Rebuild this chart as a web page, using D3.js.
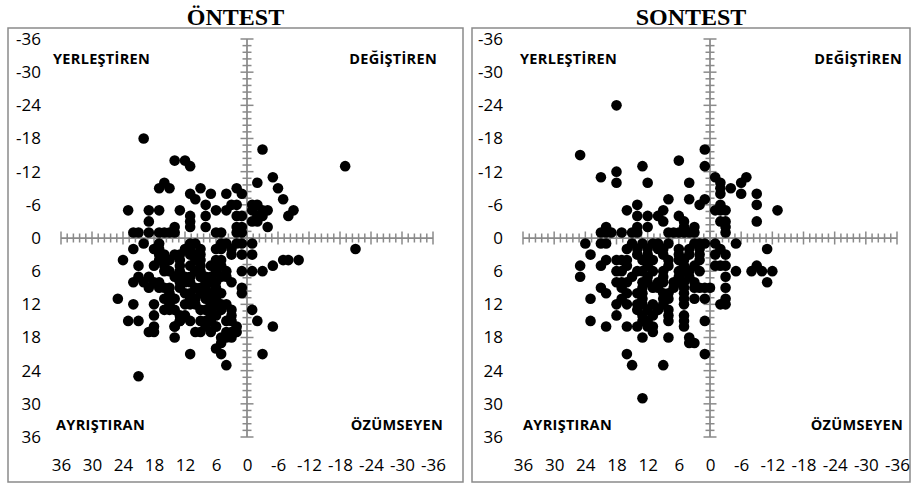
<!DOCTYPE html>
<html>
<head>
<meta charset="utf-8">
<script src="https://cdn.jsdelivr.net/npm/d3@7"></script>
<style>
  body { margin: 0; background: #fff; }
  text { fill: #000; }
</style>
</head>
<body>
<svg id="chart" width="915" height="484"></svg>
<script>
// titles, quadrant names and tick labels
var titles = ["ÖNTEST", "SONTEST"];
var quadrants = ["YERLEŞTİREN", "DEĞİŞTİREN", "AYRIŞTIRAN", "ÖZÜMSEYEN"];
var tickValues = [-36, -30, -24, -18, -12, -6, 0, 6, 12, 18, 24, 30, 36];

// [x, y] points (x grows to the left, y grows downward)
var ontest = [
  [20,-18],[-3,-16],[14,-14],[12,-14],[11,-13],[-19,-13],[-5,-11],[-2,-10],[-6,-9],[-7,-7],[-9,-5],[-8,-4],
  [16,-10],[17,-9],[15,-9],[9,-9],[11,-8],[10,-7],[7,-8],[4,-8],[2,-9],[1,-8],
  [8,-6],[6,-5],[8,-4],[8,-2],[11,-4],[11,-3],[11,-2],[13,-5],[17,-5],[19,-5],[23,-5],[19,-3],[14,-2],
  [4,-5],[3,-6],[2,-6],[2,-4],[1,-4],[2,-2],[1,-2],
  [-1,-6],[-2,-6],[-3,-5],[-4,-5],[-2,-4],[-1,-3],[-2,-3],[-4,-2],[-1,-5],[-3,-4],
  [22,-1],[21,-1],[19,-1],[17,-1],[16,-1],[15,-1],[14,-1],[6,-1],[5,-1],[1,-1],[2,-1],
  [20,1],[22,2],[24,4],[21,5],[19,7],[21,7],[22,8],[25,11],[22,12],[23,15],[21,15],[18,12],[18,14],
  [19,17],[18,17],[18,16],[14,18],[11,21],[4,23],[6,20],[5,21],[3,18],[5,18],[5,19],[-3,21],[-5,16],
  [-2,15],[-1,13],[1,10],[-1,6],[-3,6],[-5,5],[-7,4],[-8,4],[-10,4],[-21,2],[-1,1],[-1,3],[1,3],[1,6],
  [1,1],[21,25],[14,16],[13,15],[11,15],[10,17],[9,17],[8,16],[7,15],[6,16],[3,15],[2,16],
  [17,1],[11,1],[10,1],[5,1],[4,1],[2,1],
  [18,2],[17,2],[12,2],[11,2],[9,2],[6,2],[5,2],[3,2],
  [17,3],[16,3],[14,3],[13,3],[11,3],[10,3],[9,3],[3,3],
  [17,4],[16,4],[15,4],[13,4],[10,4],[9,4],[6,4],[5,4],
  [18,5],[16,5],[13,5],[11,5],[9,5],[7,5],[5,5],
  [16,6],[15,6],[13,6],[10,6],[9,6],[6,6],[4,6],
  [14,7],[13,7],[12,7],[11,7],[9,7],[8,7],[7,7],[5,7],[4,7],
  [20,8],[18,8],[17,8],[13,8],[12,8],[11,8],[8,8],[7,8],[6,8],[3,8],
  [19,9],[17,9],[16,9],[15,9],[13,9],[10,9],[9,9],[8,9],[6,9],[1,9],
  [15,10],[12,10],[11,10],[9,10],[8,10],[7,10],[6,10],[5,10],
  [16,11],[15,11],[14,11],[11,11],[10,11],[8,11],[7,11],[6,11],
  [15,12],[12,12],[11,12],[10,12],[7,12],[6,12],[5,12],[4,12],
  [16,13],[15,13],[14,13],[9,13],[8,13],[7,13],[5,13],[3,13],
  [13,14],[12,14],[7,14],[6,14],[3,14],
  [13,15],[9,15],[8,15],[4,15],
  [14,16],[6,16],[7,17],[4,17],[3,17],[2,17],[4,18]
];

var sontest = [
  [18,-24],[25,-15],[6,-14],[1,-16],[13,-13],[1,-13],[21,-11],[18,-12],[18,-10],[12,-10],[4,-10],[-1,-11],
  [-2,-10],[-2,-9],[-2,-8],[-4,-9],[-6,-10],[-7,-11],[-6,-8],[-9,-8],[-9,-6],[-9,-3],[-13,-5],
  [4,-7],[8,-7],[2,-6],[1,-7],[-1,-5],[-2,-6],[-3,-5],[-2,-5],[-2,-3],[-3,-3],[-3,-2],
  [14,-6],[16,-5],[14,-4],[12,-4],[12,-2],[14,-2],[10,-4],[9,-5],[9,-3],[6,-4],[5,-3],[5,-2],[3,-2],[20,-2],
  [21,-1],[20,-1],[19,-1],[17,-1],[15,-1],[14,-1],[8,-1],[7,-1],[6,-1],[5,-1],[4,-1],[3,-1],[-3,-1],
  [24,1],[23,3],[25,5],[25,7],[21,1],[20,1],[21,5],[20,4],[23,11],[21,9],[20,10],[18,12],[18,14],
  [18,4],[16,4],[18,8],[17,8],[16,8],[9,8],
  [1,1],[-1,1],[-2,2],[-3,3],[-1,3],[-1,5],[-2,5],[-3,5],[-5,1],[-5,6],[-3,7],[-3,9],[-3,11],[-2,12],
  [-3,12],[-11,2],[-8,6],[-9,5],[-10,6],[-12,6],[-11,8],[1,9],[0,9],[1,11],[3,11],[2,9],
  [23,15],[20,16],[16,16],[14,16],[13,18],[8,18],[16,21],[15,23],[9,23],[4,18],[3,19],[4,19],[1,21],
  [1,15],[5,15],[5,16],[11,16],[11,17],[8,14],[13,29],
  [15,1],[13,1],[11,1],[10,1],[8,1],[3,1],[2,1],
  [16,2],[14,2],[12,2],[10,2],[9,2],[6,2],[4,2],[2,2],
  [14,3],[12,3],[9,3],[6,3],[4,3],[2,3],
  [17,4],[13,4],[12,4],[11,4],[8,4],[6,4],[5,4],[2,4],
  [16,5],[12,5],[8,5],[5,5],[3,5],
  [18,6],[17,6],[14,6],[13,6],[11,6],[9,6],[6,6],[5,6],[4,6],[2,6],
  [15,7],[12,7],[9,7],[6,7],[4,7],
  [13,8],[12,8],[10,8],[7,8],[6,8],[5,8],[3,8],
  [17,9],[13,9],[11,9],[10,9],[7,9],[5,9],[3,9],
  [16,10],[14,10],[13,10],[9,10],[8,10],[5,10],
  [17,11],[13,11],[9,11],[8,11],[5,11],
  [16,12],[14,12],[13,12],[11,12],[9,12],[5,12],
  [14,13],[12,13],[10,13],[8,13],
  [13,14],[11,14],[5,14],[13,15],[12,15],[8,15],[12,16]
];

var panels = [
  { title: titles[0], data: ontest, frame: [8, 28, 463, 482], xRange: [61, 433], labelRight: 41,
    quad: [[53, "start"], [437, "end"], [56, "start"], [443, "end"]] },
  { title: titles[1], data: sontest, frame: [472, 28, 910, 482], xRange: [523, 897], labelRight: 503,
    quad: [[520, "start"], [902, "end"], [523, "start"], [903, "end"]] }
];

var AXIS_COLOR = "#8a8a8a";
var fig = d3.select("#chart");

panels.forEach(function (p) {
  var g = fig.append("g");
  var x = d3.scaleLinear().domain([36, -36]).range(p.xRange);
  var y = d3.scaleLinear().domain([-36, 36]).range([39, 437]);
  var f = p.frame;

  // frame
  g.append("rect")
      .attr("x", f[0]).attr("y", f[1])
      .attr("width", f[2] - f[0]).attr("height", f[3] - f[1])
      .attr("fill", "none")
      .attr("stroke", AXIS_COLOR)
      .attr("stroke-width", 1.5);

  // title
  g.append("text")
      .attr("x", (f[0] + f[2]) / 2)
      .attr("y", 25)
      .attr("text-anchor", "middle")
      .attr("font-family", "'Liberation Serif', 'Times New Roman', serif")
      .attr("font-weight", "bold")
      .attr("font-size", 24)
      .text(p.title);

  // tick labels through d3 axes
  var yAxis = g.append("g")
      .attr("transform", "translate(" + (p.labelRight + 3) + ",0)")
      .call(d3.axisLeft(y).tickValues(tickValues).tickSize(0).tickPadding(3)
        .tickFormat(function (d) { return String(d); }));
  var xAxis = g.append("g")
      .attr("transform", "translate(0,456)")
      .call(d3.axisBottom(x).tickValues(tickValues).tickSize(0).tickPadding(3)
        .tickFormat(function (d) { return String(d); }));
  [yAxis, xAxis].forEach(function (a) {
    a.select(".domain").remove();
    a.selectAll("text")
        .attr("font-family", "'Open Sans', sans-serif")
        .attr("font-size", 17)
        .attr("fill", "#000");
  });

  // crossing axes at zero, with ticks crossing the line
  var minor = d3.range(-36, 36.001, 1.2);
  g.append("line")
      .attr("x1", x(36)).attr("x2", x(-36))
      .attr("y1", y(0)).attr("y2", y(0))
      .attr("stroke", AXIS_COLOR).attr("stroke-width", 1.75);
  g.append("line")
      .attr("x1", x(0)).attr("x2", x(0))
      .attr("y1", y(-36)).attr("y2", y(36))
      .attr("stroke", AXIS_COLOR).attr("stroke-width", 1.75);

  function len(v) { return Math.abs(Math.round(v / 1.2) % 5) === 0 ? 6.5 : 4.5; }

  g.append("g").selectAll("line")
      .data(minor).enter().append("line")
      .attr("x1", function (d) { return x(d); })
      .attr("x2", function (d) { return x(d); })
      .attr("y1", function (d) { return y(0) - len(d); })
      .attr("y2", function (d) { return y(0) + len(d); })
      .attr("stroke", AXIS_COLOR).attr("stroke-width", 1.5);

  g.append("g").selectAll("line")
      .data(minor).enter().append("line")
      .attr("y1", function (d) { return y(d); })
      .attr("y2", function (d) { return y(d); })
      .attr("x1", function (d) { return x(0) - len(d); })
      .attr("x2", function (d) { return x(0) + len(d); })
      .attr("stroke", AXIS_COLOR).attr("stroke-width", 1.5);

  // quadrant names
  var quadY = [64, 64, 430, 430];
  g.append("g").selectAll("text")
      .data(quadrants).enter().append("text")
      .attr("x", function (d, i) { return p.quad[i][0]; })
      .attr("y", function (d, i) { return quadY[i]; })
      .attr("text-anchor", function (d, i) { return p.quad[i][1]; })
      .attr("font-family", "'Open Sans', sans-serif")
      .attr("font-weight", "bold")
      .attr("font-size", 14.5)
      .attr("letter-spacing", 0.3)
      .text(function (d) { return d; });

  // points
  g.append("g").selectAll("circle")
      .data(p.data).enter().append("circle")
      .attr("cx", function (d) { return x(d[0]); })
      .attr("cy", function (d) { return y(d[1]); })
      .attr("r", 5.3)
      .attr("fill", "#000");
});
</script>
</body>
</html>
